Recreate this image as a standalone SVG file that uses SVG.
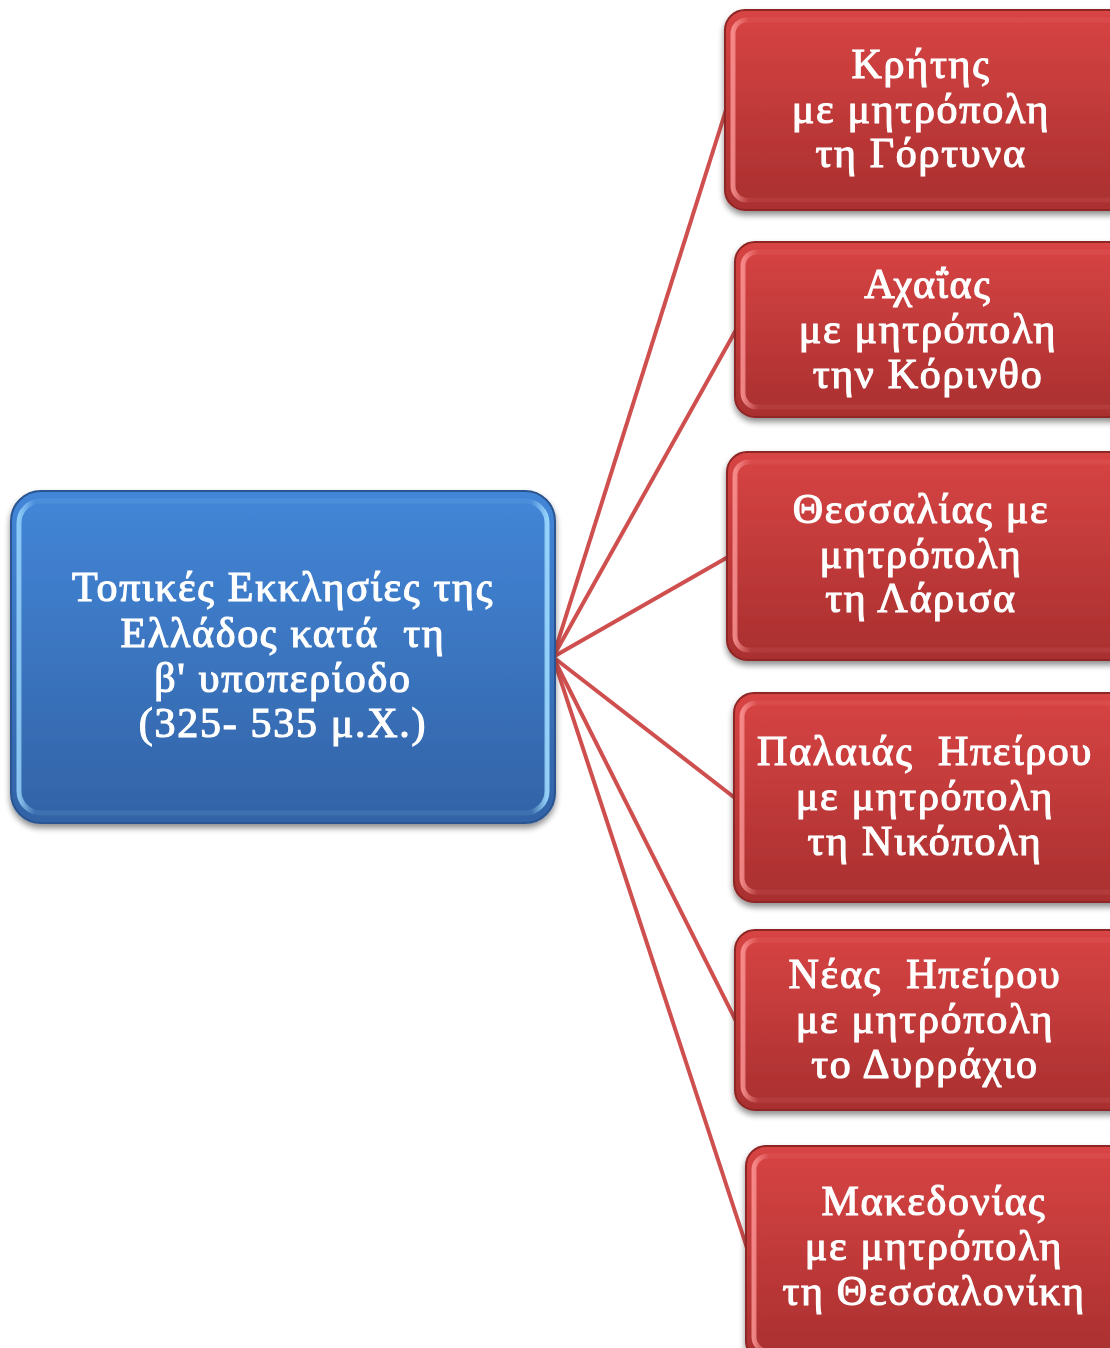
<svg xmlns="http://www.w3.org/2000/svg" width="1110" height="1348" viewBox="0 0 1110 1348">
<defs>
<linearGradient id="gRed" x1="0" y1="0" x2="0" y2="1">
<stop offset="0" stop-color="#d84444"/>
<stop offset="1" stop-color="#a92f2f"/>
</linearGradient>
<linearGradient id="gBlue" x1="0" y1="0" x2="0" y2="1">
<stop offset="0" stop-color="#4386d8"/>
<stop offset="1" stop-color="#3263a6"/>
</linearGradient>
<linearGradient id="hR" x1="0" y1="0" x2="1" y2="0">
<stop offset="0" stop-color="#ff9a9a" stop-opacity="0.8"/>
<stop offset="0.04" stop-color="#ff9a9a" stop-opacity="0.1"/>
<stop offset="0.96" stop-color="#ff9a9a" stop-opacity="0.1"/>
<stop offset="1" stop-color="#ff9a9a" stop-opacity="0.8"/>
</linearGradient>
<linearGradient id="hB" x1="0" y1="0" x2="1" y2="0">
<stop offset="0" stop-color="#9fdcff" stop-opacity="0.8"/>
<stop offset="0.03" stop-color="#9fdcff" stop-opacity="0.1"/>
<stop offset="0.97" stop-color="#9fdcff" stop-opacity="0.1"/>
<stop offset="1" stop-color="#9fdcff" stop-opacity="0.9"/>
</linearGradient>
<filter id="sh" x="-10%" y="-10%" width="120%" height="130%">
<feGaussianBlur in="SourceAlpha" stdDeviation="3"/>
<feOffset dx="0" dy="4" result="b"/>
<feComponentTransfer><feFuncA type="linear" slope="0.45"/></feComponentTransfer>
<feMerge><feMergeNode/><feMergeNode in="SourceGraphic"/></feMerge>
</filter>
</defs>
<style>
.red{fill:url(#gRed);stroke:#8e2626;stroke-width:2}
.blue{fill:url(#gBlue);stroke:#2a5590;stroke-width:2}
.hiR{fill:none;stroke:url(#hR);stroke-width:5}
.hiB{fill:none;stroke:url(#hB);stroke-width:5}
.t{font-family:"Liberation Serif","DejaVu Serif",serif;font-size:42px;font-weight:normal;fill:#ffffff;stroke:#ffffff;stroke-width:1.2;letter-spacing:1.7px;text-anchor:middle;white-space:pre}
.c{stroke:#cf4f4f;stroke-width:4;fill:none}
</style>
<g id="connectors">
<line class="c" x1="553" y1="657" x2="726" y2="110"/>
<line class="c" x1="553" y1="657" x2="736" y2="330"/>
<line class="c" x1="553" y1="657" x2="728" y2="557"/>
<line class="c" x1="553" y1="657" x2="735" y2="798"/>
<line class="c" x1="553" y1="657" x2="736" y2="1021"/>
<line class="c" x1="553" y1="657" x2="747" y2="1248"/>
</g>
<g id="root" filter="url(#sh)">
<rect class="blue" x="11" y="491" width="544" height="332" rx="30"/>
<rect class="hiB" x="19" y="501" width="528" height="312" rx="22"/>
<text class="t" x="283" y="601">Τοπικές Εκκλησίες της</text>
<text class="t" x="283" y="647">Ελλάδος κατά  τη</text>
<text class="t" x="283" y="692">β' υποπερίοδο</text>
<text class="t" x="283" y="737">(325- 535 μ.Χ.)</text>
</g>
<g id="n1" filter="url(#sh)">
<rect class="red" x="725" y="10" width="410" height="200" rx="20"/>
<rect class="hiR" x="733" y="20" width="394" height="180" rx="14"/>
<text class="t" x="921" y="78">Κρήτης</text>
<text class="t" x="921" y="123">με μητρόπολη</text>
<text class="t" x="921" y="167">τη Γόρτυνα</text>
</g>
<g id="n2" filter="url(#sh)">
<rect class="red" x="735" y="242" width="400" height="175" rx="20"/>
<rect class="hiR" x="743" y="252" width="384" height="155" rx="14"/>
<text class="t" x="928" y="298">Αχαΐας</text>
<text class="t" x="928" y="343">με μητρόπολη</text>
<text class="t" x="928" y="388">την Κόρινθο</text>
</g>
<g id="n3" filter="url(#sh)">
<rect class="red" x="727" y="452" width="408" height="208" rx="20"/>
<rect class="hiR" x="735" y="462" width="392" height="188" rx="14"/>
<text class="t" x="921" y="523">Θεσσαλίας με</text>
<text class="t" x="921" y="568">μητρόπολη</text>
<text class="t" x="921" y="612">τη Λάρισα</text>
</g>
<g id="n4" filter="url(#sh)">
<rect class="red" x="734" y="693" width="401" height="209" rx="20"/>
<rect class="hiR" x="742" y="703" width="385" height="189" rx="14"/>
<text class="t" x="925" y="765">Παλαιάς  Ηπείρου</text>
<text class="t" x="925" y="810">με μητρόπολη</text>
<text class="t" x="925" y="855">τη Νικόπολη</text>
</g>
<g id="n5" filter="url(#sh)">
<rect class="red" x="735" y="930" width="400" height="180" rx="20"/>
<rect class="hiR" x="743" y="940" width="384" height="160" rx="14"/>
<text class="t" x="925" y="988">Νέας  Ηπείρου</text>
<text class="t" x="925" y="1033">με μητρόπολη</text>
<text class="t" x="925" y="1078">το Δυρράχιο</text>
</g>
<g id="n6" filter="url(#sh)">
<rect class="red" x="746" y="1146" width="389" height="215" rx="20"/>
<rect class="hiR" x="754" y="1156" width="373" height="195" rx="14"/>
<text class="t" x="934" y="1215">Μακεδονίας</text>
<text class="t" x="934" y="1260">με μητρόπολη</text>
<text class="t" x="934" y="1305">τη Θεσσαλονίκη</text>
</g>
</svg>
